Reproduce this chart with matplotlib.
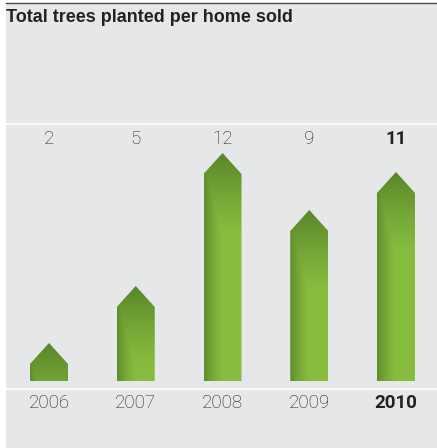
import numpy as np
import matplotlib.pyplot as plt
from matplotlib.patches import Polygon, Rectangle

# Data
years = ["2006", "2007", "2008", "2009", "2010"]
trees = [2, 5, 12, 9, 11]
highlight = "2010"

title = "Total trees planted per home sold"

W, H = 437, 448
fig = plt.figure(figsize=(W / 100, H / 100), dpi=100, facecolor="white")

# background panel in pixel coordinates
bg = fig.add_axes([0, 0, 1, 1])
bg.set_xlim(0, W)
bg.set_ylim(H, 0)
bg.axis("off")
bg.add_patch(Rectangle((6, 3.5), W - 6, H, color="#e6e7e9", lw=0))
bg.plot([6, W], [3.2, 3.2], color="#4a4a4a", lw=1.0)
bg.plot([6, W], [124, 124], color="white", lw=1.2)
bg.plot([6, W], [389, 389], color="white", lw=1.2)
bg.text(6, 18, title, fontsize=13, fontweight="bold", family=["Liberation Sans", "DejaVu Sans"],
        color="#222222", va="center", ha="left")

# chart axes: baseline at pixel 381, 19 px per tree
base_px = 381
px_per_unit = 19
spacing = 86.75
ax = fig.add_axes([6 / W, 0, (W - 6) / W, 1])
ax.set_xlim(-(49 - 6) / spacing, 4 + (W - 396) / spacing)
ax.set_ylim(-(H - base_px) / px_per_unit, base_px / px_per_unit)
ax.axis("off")
ax.patch.set_alpha(0)

bar_w = 38 / spacing
head = 21 / px_per_unit

dark = np.array([0x5a, 0x86, 0x2a]) / 255
light = np.array([0x87, 0xbc, 0x3e]) / 255

for i, (yr, v) in enumerate(zip(years, trees)):
    x0, x1 = i - bar_w / 2, i + bar_w / 2
    verts = [(x0, 0), (x0, v - head), (i, v), (x1, v - head), (x1, 0)]
    poly = Polygon(verts, closed=True, facecolor="none", edgecolor="none")
    ax.add_patch(poly)

    # gradient: darker on left edge and towards the tip
    ny, nx = 200, 60
    u = np.linspace(0, 1, nx)[None, :]
    ypx = np.linspace(v * px_per_unit, 0, ny)[:, None]
    d_top = v * px_per_unit - ypx
    top_f = np.clip(1 - d_top / 80, 0, 1) ** 1.2
    left_f = np.clip(1 - u / 0.5, 0, 1) ** 1.3 * 0.85
    mix = np.maximum(top_f, left_f)
    img = light[None, None, :] * (1 - mix[..., None]) + dark[None, None, :] * mix[..., None]
    im = ax.imshow(img, extent=(x0, x1, 0, v), aspect="auto", interpolation="bilinear", zorder=2)
    im.set_clip_path(poly)

    if yr == highlight:
        kw = dict(fontweight="bold", family=["Roboto", "Liberation Sans", "DejaVu Sans"])
    else:
        kw = dict(fontweight="light", family=["Roboto", "Liberation Sans", "DejaVu Sans"])
    ax.text(i, (base_px - 139) / px_per_unit, str(v), ha="center", va="center",
            fontsize=13.5, color="#222222", **kw)
    ax.text(i, (base_px - 403) / px_per_unit, yr, ha="center", va="center",
            fontsize=13.5, color="#222222", **kw)

fig.savefig("out.png", dpi=100, facecolor="white")
